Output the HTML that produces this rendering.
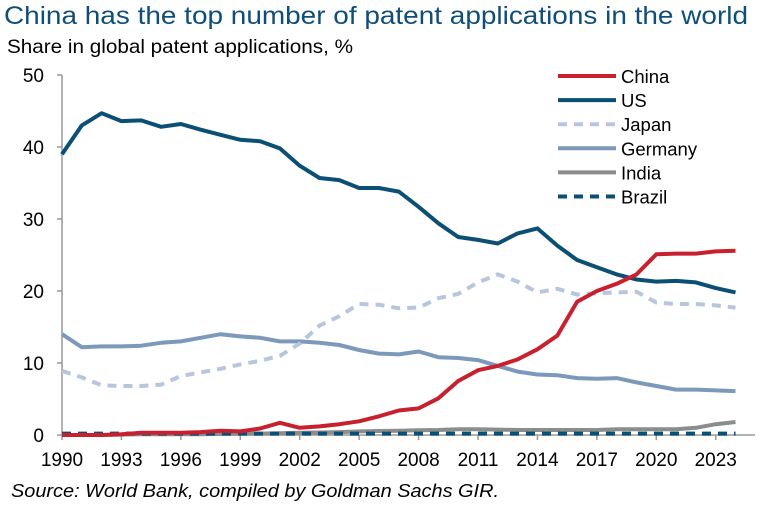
<!DOCTYPE html>
<html><head><meta charset="utf-8"><style>
body{margin:0;background:#fff;width:773px;height:511px;overflow:hidden;font-family:"Liberation Sans",Arial,sans-serif}
</style></head><body>
<svg id="s" width="773" height="511" xmlns="http://www.w3.org/2000/svg" font-family="Liberation Sans, Arial, sans-serif">
<text x="4" y="24" font-size="25" fill="#0f4d7a" textLength="744" lengthAdjust="spacingAndGlyphs">China has the top number of patent applications in the world</text>
<text x="7" y="53" font-size="19.5" fill="#000" textLength="346" lengthAdjust="spacingAndGlyphs">Share in global patent applications, %</text>
<text x="11" y="497" font-size="18.5" font-style="italic" fill="#000" textLength="488" lengthAdjust="spacingAndGlyphs">Source: World Bank, compiled by Goldman Sachs GIR.</text>
<g id="ax" stroke="#999" stroke-width="1.5"></g>
<g id="lab" font-size="19" fill="#000"></g>
<g id="ser" fill="none" stroke-linejoin="round" stroke-linecap="butt"></g>
<g id="leg" font-size="18.5" fill="#000"></g>
</svg>
<script>
var X=function(y){return 62+19.81*(y-1990)},Y=function(v){return 435-7.2*v};
var ns="http://www.w3.org/2000/svg";
function el(p,t,a,tx){var e=document.createElementNS(ns,t);for(var k in a)e.setAttribute(k,a[k]);if(tx!==undefined)e.textContent=String(tx);document.getElementById(p).appendChild(e);return e}
el("ax","line",{x1:62,y1:75,x2:62,y2:435});
el("ax","line",{x1:62,y1:435,x2:755,y2:435});
for(var v=0;v<=50;v+=10){el("ax","line",{x1:57,y1:Y(v),x2:62,y2:Y(v)});el("lab","text",{x:44,y:Y(v)+7,"text-anchor":"end"},v)}
for(var yr=1990;yr<=2023;yr+=3){el("ax","line",{x1:X(yr),y1:435,x2:X(yr),y2:440});el("lab","text",{x:X(yr),y:466,"text-anchor":"middle"},yr)}
var US=[39,43,44.7,43.6,43.7,42.8,43.2,42.4,41.7,41,40.8,39.8,37.4,35.7,35.4,34.3,34.3,33.8,31.7,29.4,27.5,27.1,26.6,28,28.7,26.3,24.3,23.3,22.3,21.6,21.3,21.4,21.2,20.4,19.8];
var CN=[0,0,0,0.1,0.3,0.3,0.3,0.4,0.6,0.5,0.9,1.7,1,1.2,1.5,1.9,2.6,3.4,3.7,5.1,7.5,9,9.6,10.5,11.9,13.8,18.5,20,21,22.3,25.1,25.2,25.2,25.5,25.6];
var JP=[8.9,8,6.9,6.8,6.8,7,8.2,8.7,9.2,9.8,10.3,11,12.7,15.2,16.5,18.2,18.1,17.6,17.7,19,19.6,21.2,22.3,21.3,19.8,20.3,19.5,19.7,19.8,19.9,18.4,18.2,18.2,18,17.7];
var DE=[14,12.2,12.3,12.3,12.4,12.8,13,13.5,14,13.7,13.5,13,13,12.8,12.5,11.8,11.3,11.2,11.6,10.8,10.7,10.4,9.6,8.8,8.4,8.3,7.9,7.8,7.9,7.3,6.8,6.3,6.3,6.2,6.1];
var IN=[0,0,0,0.05,0.1,0.1,0.1,0.1,0.15,0.2,0.2,0.25,0.3,0.35,0.4,0.5,0.55,0.6,0.65,0.7,0.8,0.8,0.75,0.7,0.7,0.7,0.7,0.7,0.8,0.8,0.8,0.8,1,1.5,1.8];
var BR=[];for(var i=0;i<35;i++)BR.push(0.2);
function pts(a){return a.map(function(v,i){return X(1990+i).toFixed(1)+","+Y(v).toFixed(1)}).join(" ")}
var S=[[IN,"#8c8c8c",null],[BR,"#0b4f74","9,7"],[DE,"#7c98bb",null],[JP,"#b7c6dc","9,7"],[US,"#0b4f74",null],[CN,"#c8202f",null]];
S.forEach(function(s){var a={points:pts(s[0]),stroke:s[1],"stroke-width":4};if(s[2])a["stroke-dasharray"]=s[2];el("ser","polyline",a)});
var L=[["China","#c8202f",null],["US","#0b4f74",null],["Japan","#b7c6dc","9,7"],["Germany","#7c98bb",null],["India","#8c8c8c",null],["Brazil","#0b4f74","9,7"]];
L.forEach(function(l,i){var y=76+24.1*i;var a={x1:558,y1:y,x2:616,y2:y,stroke:l[1],"stroke-width":4};if(l[2])a["stroke-dasharray"]=l[2];el("leg","line",a);el("leg","text",{x:621,y:y+7},l[0])});
</script>
</body></html>
